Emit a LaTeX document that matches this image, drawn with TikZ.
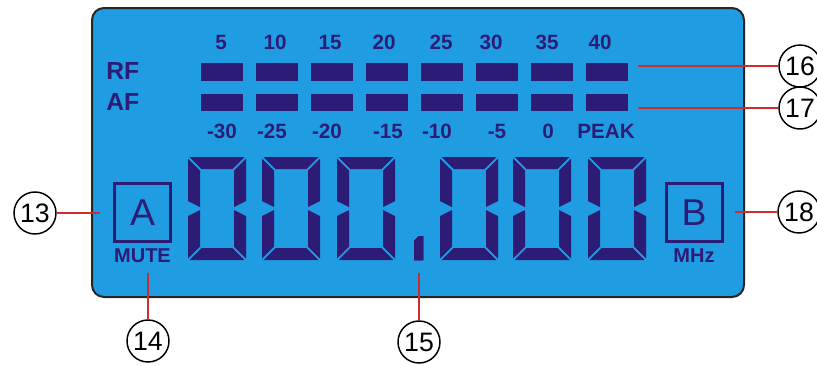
\documentclass[tikz,border=0pt]{standalone}
\usepackage{fontspec}
\setmainfont{Liberation Sans}
\usetikzlibrary{positioning}

\definecolor{lcdblue}{RGB}{32,156,226}
\definecolor{lcdink}{RGB}{45,28,118}
\definecolor{leadred}{RGB}{205,45,45}

% one seven-segment "0" with its left edge at #1
\newcommand{\lcdzero}[1]{%
  \fill[seg] ({#1+1.5},157) -- ({#1+56.5},157) -- ({#1+44.5},169) -- ({#1+13.5},169) -- cycle;
  \fill[seg] ({#1+1.5},260) -- ({#1+56.5},260) -- ({#1+44.5},248) -- ({#1+13.5},248) -- cycle;
  \fill[seg] (#1,158.5) -- ({#1+12},170.5) -- ({#1+12},207) -- (#1,201) -- cycle;
  \fill[seg] (#1,258.5) -- ({#1+12},246.5) -- ({#1+12},210) -- (#1,216) -- cycle;
  \fill[seg] ({#1+58},158.5) -- ({#1+46},170.5) -- ({#1+46},207) -- ({#1+58},201) -- cycle;
  \fill[seg] ({#1+58},258.5) -- ({#1+46},246.5) -- ({#1+46},210) -- ({#1+58},216) -- cycle;
}

\begin{document}
\begin{tikzpicture}[
        x=0.75pt, y=-0.75pt,
        panel/.style={draw=black!85, line width=1.5pt, fill=lcdblue, rounded corners=9pt},
        seg/.style={fill=lcdink},
        bar/.style={fill=lcdink},
        scalelbl/.style={text=lcdink, inner sep=0pt, font=\fontsize{15.5}{18}\selectfont\bfseries},
        chan/.style={text=lcdink, inner sep=0pt, anchor=west, font=\fontsize{18.5}{21}\selectfont\bfseries},
        letterbox/.style={draw=lcdink, line width=2.25pt, minimum width=42pt, minimum height=44pt, inner sep=0pt, text=lcdink, font=\fontsize{28}{30}\selectfont},
        unit/.style={text=lcdink, inner sep=0pt, font=\fontsize{15}{17}\selectfont\bfseries},
        callout/.style={circle, draw, line width=1.1pt, minimum size=31.5pt, inner sep=0pt, font=\fontsize{20}{22}\selectfont},
        leader/.style={draw=leadred, line width=1.1pt}
    ]
        \useasboundingbox (0,0) rectangle (817,365);

        % Display
        \draw[panel] (92,8) rectangle (744,297);

        % Bar graph
        \node[chan] (rf) at (106,71) {RF};
        \node[chan] (af) at (106,102) {AF};
        \foreach \i in {0,...,7} {
            \fill[bar] ({201+55*\i},63) rectangle +(42,18);
            \fill[bar] ({201+55*\i},94) rectangle +(42,17);
        }
        \foreach \x/\t [count=\i] in {221/5, 275/10, 330/15, 384/20, 441/25, 491/30, 547/35, 600/40}
            \node[scalelbl] (rf\i) at (\x,42) {\t};
        \foreach \x/\t [count=\i] in {222/-30, 272/-25, 327/-20, 388/-15, 437/-10, 497/-5, 548/0, 606/PEAK}
            \node[scalelbl] (af\i) at (\x,131) {\t};

        % Frequency digits
        \foreach \x in {188, 262, 337, 440, 513, 588}
            \lcdzero{\x}
        \fill[seg] (414,241) -- (419,236) -- (423,236) -- (423,260) -- (414,260) -- cycle;

        % A / B boxes
        \node[letterbox] (boxa) at (142.5,212.5) {A};
        \node[unit, below=4pt of boxa] (mute) {MUTE};
        \node[letterbox] (boxb) at (694,212.5) {B};
        \node[unit, below=4pt of boxb] (mhz) {MHz};

        % Callouts
        \node[callout] (c13) at (35,213) {13};
        \node[callout] (c14) at (148,341) {14};
        \node[callout] (c15) at (419,342) {15};
        \node[callout] (c16) at (800,66) {16};
        \node[callout] (c17) at (800,108) {17};
        \node[callout] (c18) at (799,212) {18};

        \coordinate (p13) at (100,213);
        \coordinate (p14) at (148,273);
        \coordinate (p15) at (419,273);
        \coordinate (p16) at (638,66);
        \coordinate (p17) at (638,108);
        \coordinate (p18) at (735,212);

        \draw[leader] (p13) -- (c13);
        \draw[leader] (p14) -- (c14);
        \draw[leader] (p15) -- (c15);
        \draw[leader] (p16) -- (c16);
        \draw[leader] (p17) -- (c17);
        \draw[leader] (p18) -- (c18);
    \end{tikzpicture}
\end{document}
